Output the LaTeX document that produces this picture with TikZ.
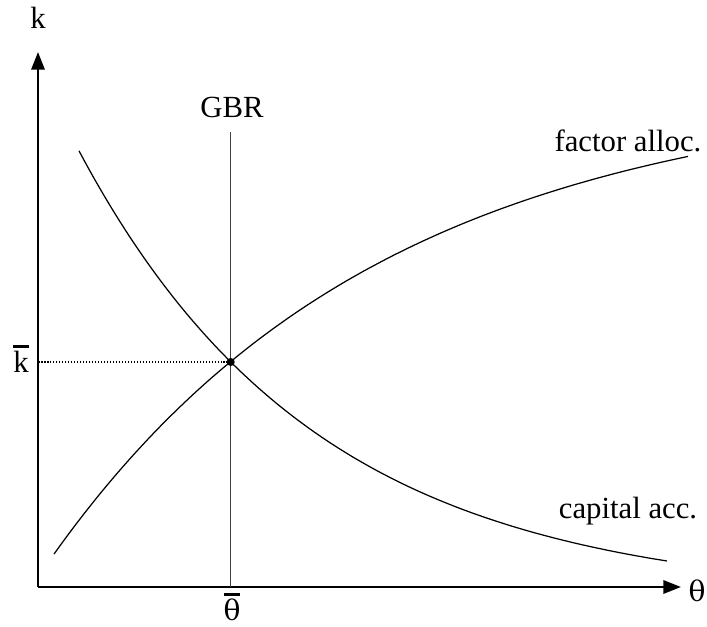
\documentclass[tikz,border=0pt]{standalone}
\usepackage{fontspec}
\setmainfont{Liberation Serif}
\newfontfamily\thetafont{DejaVu Serif}
\usetikzlibrary{arrows.meta}

% label with a thick bar on top
\newcommand\barlbl[1]{\setbox0\hbox{#1}\vbox{\offinterlineskip\hbox to\wd0{\hss\vrule width \wd0 height 1.9pt depth 0pt\hss}\kern1.8pt\box0}}
\newcommand\thet{{\thetafont\fontsize{16}{18}\selectfont θ}}

\begin{document}
\begin{tikzpicture}[x=0.02cm,y=0.02cm,font=\fontsize{17.5}{20}\selectfont,
  axis/.style={line width=1.5pt,-{Triangle[length=10pt,width=7.5pt]}},
  curve/.style={line width=0.7pt,smooth,samples=120}]

\useasboundingbox (-38,-39) rectangle (669,587);

\def\xe{192.7}

% Axes
\coordinate (O) at (0,0);
\coordinate (ytop) at (0,535);
\coordinate (xend) at (643,0);
\draw[axis] (O) -- (ytop);
\draw[axis] (O) -- (xend);
\node (k) at (0,569) {k};
\node (theta) at (659,-4) {\thet};

% Equilibrium
\coordinate (E) at (\xe,225);
\coordinate (gbrtop) at (\xe,455);
\draw[line width=0.8pt,black!75] (E |- O) -- (gbrtop);
\node (gbr) at (194,480) {GBR};
\draw[densely dotted,line width=0.7pt] (E) -- (E -| O);
\node (kbar) at (-17,228) {\barlbl{k}};
\node[inner sep=0pt] (thetabar) at (194,-20) {\barlbl{\thet}};

% Capital accumulation
\draw[curve,domain=41:629] plot (\x,{-12+532.2*exp(-0.0042*\x)});
\node (capacc) at (590,76) {capital acc.};

% Factor allocation
\draw[curve,domain=16:650] plot (\x,{500-490*exp(-0.003*\x)});
\node (factor) at (590,446) {factor alloc.};

\fill (E) circle(2.3pt);

\end{tikzpicture}
\end{document}
